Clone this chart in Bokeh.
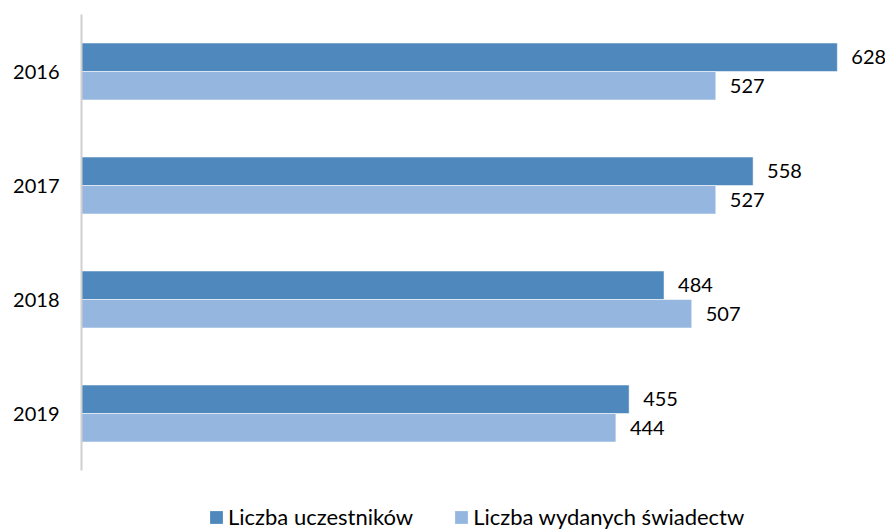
from bokeh.plotting import figure
from bokeh.models import ColumnDataSource, FactorRange, Range1d, Legend, LegendItem
from bokeh.transform import dodge
from bokeh.layouts import column
from bokeh.embed import file_html
from bokeh.resources import INLINE

years = ["2016", "2017", "2018", "2019"]
uczestnicy = [628, 558, 484, 455]
swiadectwa = [527, 527, 507, 444]
series_names = ["Liczba uczestników", "Liczba wydanych świadectw"]
colors = ["#4F88BD", "#95B7DF"]

FONT = "Lato"

src = ColumnDataSource(dict(
    year=years,
    a=uczestnicy,
    b=swiadectwa,
    a_lbl=[str(v) for v in uczestnicy],
    b_lbl=[str(v) for v in swiadectwa],
))

p = figure(
    width=885, height=490,
    y_range=FactorRange(factors=list(reversed(years)), range_padding=0),
    x_range=Range1d(0, 668),
    output_backend="svg", toolbar_location=None,
    min_border_left=81, min_border_right=0, min_border_top=14, min_border_bottom=20,
)

r1 = p.hbar(y=dodge("year", 0.125, range=p.y_range), right="a", left=0, height=0.25,
            source=src, fill_color=colors[0], line_color="white", line_alpha=0.5, line_width=1)
r2 = p.hbar(y=dodge("year", -0.125, range=p.y_range), right="b", left=0, height=0.25,
            source=src, fill_color=colors[1], line_color="white", line_alpha=0.5, line_width=1)

p.text(x="a", y=dodge("year", 0.125, range=p.y_range), text="a_lbl", source=src,
       x_offset=14, text_align="left", text_baseline="middle",
       text_font={"value": FONT}, text_font_size="20px", text_color="#000000")
p.text(x="b", y=dodge("year", -0.125, range=p.y_range), text="b_lbl", source=src,
       x_offset=14, text_align="left", text_baseline="middle",
       text_font={"value": FONT}, text_font_size="20px", text_color="#000000")

p.xaxis.visible = False
p.xgrid.visible = False
p.ygrid.visible = False
p.outline_line_color = None

ya = p.yaxis[0]
ya.axis_line_color = "#D0D0D0"
ya.axis_line_width = 2
ya.major_tick_line_color = None
ya.major_tick_out = 0
ya.major_tick_in = 0
ya.minor_tick_line_color = None
ya.major_label_text_font = FONT
ya.major_label_text_font_size = "20px"
ya.major_label_text_color = "#000000"
ya.major_label_standoff = 22

# legend strip (separate figure so the legend is not clipped by the main frame)
lg = figure(
    width=885, height=41,
    x_range=Range1d(0, 1), y_range=Range1d(0, 1),
    output_backend="svg", toolbar_location=None,
    min_border_left=0, min_border_right=0, min_border_top=0, min_border_bottom=0,
)
lg.axis.visible = False
lg.grid.visible = False
lg.outline_line_color = None
# proxy renderers for the legend swatches (their single row lies outside the strip's ranges)
proxy = ColumnDataSource(dict(y=[-10], right=[0]))
e1 = lg.hbar(y="y", right="right", left=0, height=0.5, source=proxy,
             fill_color=colors[0], line_color=None)
e2 = lg.hbar(y="y", right="right", left=0, height=0.5, source=proxy,
             fill_color=colors[1], line_color=None)

legend = Legend(
    items=[LegendItem(label=series_names[0], renderers=[e1]),
           LegendItem(label=series_names[1], renderers=[e2])],
    orientation="horizontal",
    location=(127, 1),
    glyph_width=16, glyph_height=16,
    label_text_font=FONT, label_text_font_size="22px", label_text_color="#000000",
    label_standoff=4, spacing=40, padding=0, margin=0,
    border_line_color=None, background_fill_alpha=0,
)
lg.add_layout(legend, "center")

open("out.html", "w").write(file_html(column(p, lg), INLINE))
